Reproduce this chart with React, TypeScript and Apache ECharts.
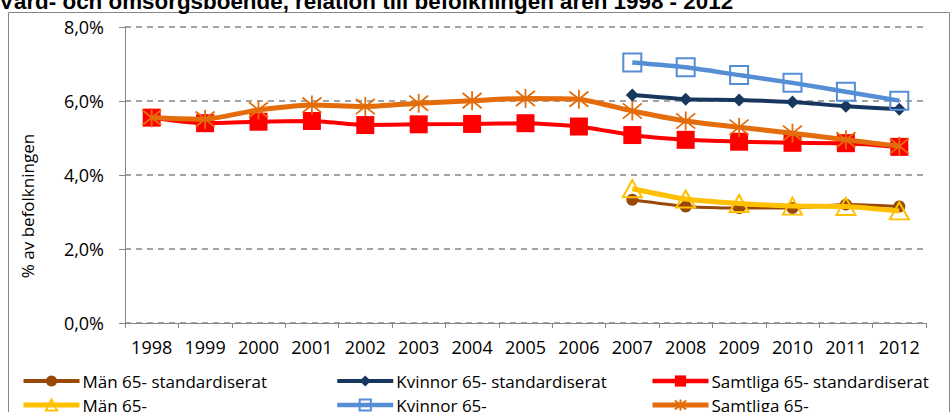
import React, { useEffect, useRef } from "react";
import * as echarts from "echarts";

const years = ["1998","1999","2000","2001","2002","2003","2004","2005","2006","2007","2008","2009","2010","2011","2012"];
const yTicks = [0, 2, 4, 6, 8];

const manStd = [null,null,null,null,null,null,null,null,null,3.33,3.15,3.11,3.11,3.20,3.15];
const kvinnorStd = [null,null,null,null,null,null,null,null,null,6.16,6.05,6.03,5.97,5.86,5.78];
const samtligaStd = [5.55,5.40,5.44,5.46,5.35,5.37,5.38,5.40,5.31,5.08,4.95,4.90,4.87,4.86,4.76];
const man = [null,null,null,null,null,null,null,null,null,3.63,3.35,3.23,3.16,3.15,3.03];
const kvinnor = [null,null,null,null,null,null,null,null,null,7.04,6.91,6.70,6.49,6.25,6.01];
const samtliga = [5.55,5.51,5.76,5.89,5.85,5.94,6.01,6.07,6.05,5.73,5.46,5.29,5.13,4.95,4.78];

const names = {
  manStd: "Män 65- standardiserat",
  kvinnorStd: "Kvinnor 65- standardiserat",
  samtligaStd: "Samtliga 65- standardiserat",
  man: "Män 65-",
  kvinnor: "Kvinnor 65-",
  samtliga: "Samtliga 65-",
};

const FONT = "Open Sans";
const ASTERISK = "path://M10,0L10,20M2,2L18,18M2,18L18,2";

export default function App() {
  const ref = useRef<HTMLDivElement>(null);
  useEffect(() => {
    document.body.style.margin = "0";
    if (!ref.current) return;
    const chart = echarts.init(ref.current, null, { renderer: "svg" });
    const smooth = 0.2;
    const legendBase = {
      orient: "vertical",
      top: 372,
      height: 80,
      itemWidth: 56,
      itemHeight: 14,
      itemGap: 6,
      padding: 0,
      textStyle: { fontFamily: FONT, fontSize: 17, color: "#000", lineHeight: 18, padding: [0, 0, 0, -2] },
    };
    const li = (name: string, w: number) => ({ name, lineStyle: { width: w } });
    chart.setOption({
      animation: false,
      title: {
        text: "Vård- och omsorgsboende, relation till befolkningen åren 1998 - 2012",
        left: -1,
        top: -10,
        padding: 0,
        textStyle: { fontFamily: "Liberation Sans", fontWeight: "bold", fontSize: 22.4, color: "#000" },
      },
      graphic: [
        {
          type: "rect",
          shape: { x: 8.5, y: 12.5, width: 941, height: 420 },
          style: { fill: "none", stroke: "#868686", lineWidth: 1 },
          silent: true,
        },
        {
          type: "text",
          x: 27,
          y: 206,
          rotation: Math.PI / 2,
          style: {
            text: "% av befolkningen",
            fontFamily: FONT,
            fontSize: 17,
            fill: "#000",
            align: "center",
            verticalAlign: "middle",
          },
        },
      ],
      legend: [
        { ...legendBase, left: 21, data: [li(names.manStd, 4), li(names.man, 5)] },
        { ...legendBase, left: 335, data: [li(names.kvinnorStd, 4), li(names.kvinnor, 4.5)] },
        { ...legendBase, left: 650, data: [li(names.samtligaStd, 4.5), li(names.samtliga, 5)] },
      ],
      grid: { left: 125, right: 25, top: 27, bottom: 89, containLabel: false },
      xAxis: {
        type: "category",
        data: years,
        boundaryGap: true,
        axisLine: { lineStyle: { color: "#868686", width: 1 } },
        axisTick: { show: true, length: 5, interval: 0, lineStyle: { color: "#868686" } },
        axisLabel: { fontFamily: FONT, fontSize: 18, color: "#000", margin: 15, interval: 0, hideOverlap: false },
      },
      yAxis: {
        type: "value",
        min: yTicks[0],
        max: yTicks[yTicks.length - 1],
        interval: 2,
        axisLine: { show: true, lineStyle: { color: "#868686", width: 1 } },
        axisTick: { show: true, length: 6, lineStyle: { color: "#868686" } },
        axisLabel: {
          fontFamily: FONT,
          fontSize: 18,
          color: "#000",
          margin: 21,
          formatter: (v: number) => v.toFixed(1).replace(".", ",") + "%",
        },
        splitLine: { show: true, lineStyle: { color: "#868686", width: 1.5, type: [6, 5] } },
      },
      series: [
        {
          name: names.manStd, type: "line", data: manStd, smooth,
          symbol: "circle", symbolSize: 12,
          lineStyle: { color: "#984807", width: 3 },
          itemStyle: { color: "#984807" },
          z: 2,
        },
        {
          name: names.kvinnorStd, type: "line", data: kvinnorStd, smooth,
          symbol: "diamond", symbolSize: 13,
          lineStyle: { color: "#17375E", width: 4 },
          itemStyle: { color: "#17375E" },
          z: 3,
        },
        {
          name: names.samtligaStd, type: "line", data: samtligaStd, smooth,
          symbol: "rect", symbolSize: 18,
          lineStyle: { color: "#FF0000", width: 4 },
          itemStyle: { color: "#FF0000" },
          z: 4,
        },
        {
          name: names.man, type: "line", data: man, smooth,
          symbol: "triangle", symbolSize: [19, 17],
          lineStyle: { color: "#FFC000", width: 5 },
          itemStyle: { color: "rgba(255,255,255,0)", borderColor: "#FFC000", borderWidth: 2 },
          z: 5,
        },
        {
          name: names.kvinnor, type: "line", data: kvinnor, smooth,
          symbol: "rect", symbolSize: 18,
          lineStyle: { color: "#558ED5", width: 4.5 },
          itemStyle: { color: "rgba(255,255,255,0)", borderColor: "#558ED5", borderWidth: 2 },
          z: 6,
        },
        {
          name: names.samtliga, type: "line", data: samtliga, smooth,
          symbol: ASTERISK, symbolSize: 19,
          lineStyle: { color: "#E46C0A", width: 5 },
          itemStyle: { color: "rgba(255,255,255,0)", borderColor: "#E46C0A", borderWidth: 1.8 },
          z: 7,
        },
      ],
    });
    return () => chart.dispose();
  }, []);
  return <div ref={ref} style={{ width: 951, height: 412 }} />;
}
